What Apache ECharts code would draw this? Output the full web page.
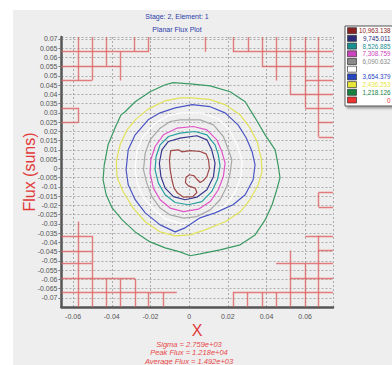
<!DOCTYPE html>
<html>
<head>
<meta charset="utf-8">
<script src="https://cdn.jsdelivr.net/npm/echarts@6/dist/echarts.min.js"></script>
<style>
html,body{margin:0;padding:0;background:#fff;}
#c{width:392px;height:365px;}
</style>
</head>
<body>
<div id="c"></div>
<script>
// ---------- data ----------
const xRange = [-0.066, 0.0744];
const yRange = [-0.075, 0.071];

const legendLabels = ['10,963.138','9,745.011','8,526.885','7,308.759','6,090.632','4,872.506','3,654.379','2,436.253','1,218.126','0'];
const legendColors = ['#8b2020','#2b2b7a','#1a8f8f','#cc44bb','#8a8a8a','#ffffff','#2845c0','#e6e63a','#178040','#ee3333'];
const lineColors   = ['#a04848','#38388f','#26a0a0','#e055c8','#a8a8a8','#ffffff','#4a55c4','#e2e25a','#3a9a62'];

const contourDarkRed = [[-0.0095,0.0096],[-0.0055,0.0100],[-0.0038,0.0089],[0.0005,0.0096],[0.0057,0.0091],[0.0088,0.0078],[0.0100,0.0046],[0.0105,0.0001],[0.0092,-0.0044],[0.0074,-0.0066],[0.0057,-0.0077],[0.0043,-0.0062],[0.0026,-0.0041],[0.0002,-0.0035],[-0.0016,-0.0048],[-0.0019,-0.0077],[-0.0004,-0.0095],[0.0031,-0.0107],[0.0040,-0.0131],[0.0019,-0.0153],[-0.0029,-0.0156],[-0.0060,-0.0134],[-0.0078,-0.0107],[-0.0089,-0.0062],[-0.0098,-0.0008],[-0.0102,0.0046]];
const contourNavy = [[-0.0047,0.0163],[0.0040,0.0176],[0.0092,0.0154],[0.0117,0.0100],[0.0134,0.0028],[0.0126,-0.0044],[0.0092,-0.0116],[0.0040,-0.0156],[-0.0021,-0.0170],[-0.0081,-0.0153],[-0.0124,-0.0107],[-0.0146,-0.0044],[-0.0154,0.0028],[-0.0141,0.0100],[-0.0107,0.0145]];
const contourTeal = [[-0.0047,0.0190],[0.0031,0.0199],[0.0092,0.0181],[0.0134,0.0127],[0.0151,0.0073],[0.0160,0.0010],[0.0146,-0.0062],[0.0117,-0.0125],[0.0066,-0.0180],[-0.0004,-0.0197],[-0.0072,-0.0185],[-0.0124,-0.0143],[-0.0159,-0.0080],[-0.0176,-0.0008],[-0.0171,0.0064],[-0.0150,0.0127],[-0.0107,0.0172]];
const contourMagenta = [[-0.0064,0.0217],[0.0022,0.0226],[0.0092,0.0208],[0.0143,0.0154],[0.0169,0.0091],[0.0186,0.0028],[0.0177,-0.0044],[0.0151,-0.0116],[0.0109,-0.0180],[0.0048,-0.0221],[-0.0029,-0.0234],[-0.0098,-0.0215],[-0.0150,-0.0170],[-0.0185,-0.0107],[-0.0202,-0.0026],[-0.0198,0.0046],[-0.0176,0.0118],[-0.0133,0.0181]];
const contourGray = [[-0.0047,0.0262],[0.0057,0.0262],[0.0126,0.0235],[0.0177,0.0172],[0.0203,0.0100],[0.0221,0.0046],[0.0212,-0.0026],[0.0195,-0.0098],[0.0160,-0.0170],[0.0109,-0.0225],[0.0040,-0.0261],[-0.0029,-0.0269],[-0.0098,-0.0252],[-0.0150,-0.0215],[-0.0193,-0.0153],[-0.0219,-0.0080],[-0.0236,-0.0008],[-0.0227,0.0082],[-0.0202,0.0154],[-0.0150,0.0217],[-0.0098,0.0253]];
const contourWhite = [[-0.0040,0.0300],[0.0070,0.0298],[0.0150,0.0268],[0.0210,0.0205],[0.0250,0.0120],[0.0275,0.0040],[0.0268,-0.0045],[0.0240,-0.0125],[0.0190,-0.0200],[0.0120,-0.0245],[0.0040,-0.0285],[-0.0040,-0.0300],[-0.0120,-0.0275],[-0.0180,-0.0225],[-0.0235,-0.0160],[-0.0268,-0.0085],[-0.0280,-0.0005],[-0.0270,0.0090],[-0.0240,0.0170],[-0.0180,0.0240],[-0.0110,0.0285]];
const contourBlue = [[0.0016,0.0344],[0.0109,0.0333],[0.0186,0.0300],[0.0253,0.0235],[0.0295,0.0165],[0.0326,0.0089],[0.0341,0.0019],[0.0331,-0.0062],[0.0290,-0.0143],[0.0227,-0.0197],[0.0134,-0.0241],[0.0057,-0.0268],[-0.0021,-0.0322],[-0.0072,-0.0344],[-0.0150,-0.0306],[-0.0227,-0.0241],[-0.0279,-0.0170],[-0.0315,-0.0089],[-0.0326,-0.0008],[-0.0315,0.0100],[-0.0279,0.0181],[-0.0212,0.0262],[-0.0150,0.0300],[-0.0072,0.0327]];
const contourYellow = [[0.0016,0.0381],[0.0109,0.0371],[0.0186,0.0344],[0.0264,0.0289],[0.0315,0.0219],[0.0352,0.0143],[0.0372,0.0057],[0.0377,-0.0019],[0.0357,-0.0089],[0.0315,-0.0170],[0.0264,-0.0235],[0.0186,-0.0289],[0.0083,-0.0333],[0.0005,-0.0360],[-0.0072,-0.0365],[-0.0150,-0.0344],[-0.0227,-0.0289],[-0.0290,-0.0214],[-0.0341,-0.0127],[-0.0372,-0.0051],[-0.0377,0.0035],[-0.0357,0.0127],[-0.0321,0.0208],[-0.0279,0.0262],[-0.0212,0.0320],[-0.0124,0.0365],[-0.0047,0.0381]];
const contourGreen = [[-0.0083,0.0463],[0.0005,0.0457],[0.0109,0.0446],[0.0212,0.0414],[0.0290,0.0360],[0.0341,0.0273],[0.0393,0.0181],[0.0445,0.0100],[0.0460,0.0019],[0.0470,-0.0051],[0.0450,-0.0127],[0.0429,-0.0197],[0.0393,-0.0279],[0.0341,-0.0360],[0.0264,-0.0414],[0.0160,-0.0441],[0.0057,-0.0463],[0.0005,-0.0473],[-0.0047,-0.0452],[-0.0124,-0.0430],[-0.0202,-0.0398],[-0.0279,-0.0344],[-0.0346,-0.0279],[-0.0398,-0.0214],[-0.0429,-0.0143],[-0.0445,-0.0062],[-0.0439,0.0019],[-0.0419,0.0127],[-0.0383,0.0219],[-0.0352,0.0289],[-0.0331,0.0306],[-0.0279,0.0360],[-0.0202,0.0414],[-0.0124,0.0452]];

// red outline segments [x1, y1, x2, y2]
const redSegments = [
  // top-left
  [-0.066,0.0631,-0.0207,0.0631],[-0.066,0.0554,-0.0353,0.0554],[-0.066,0.0475,-0.0503,0.0475],
  [-0.0573,0.071,-0.0573,0.0475],[-0.0503,0.071,-0.0503,0.0475],[-0.0429,0.071,-0.0429,0.0554],
  [-0.0357,0.0631,-0.0357,0.0475],[-0.0285,0.071,-0.0285,0.0631],[-0.0211,0.071,-0.0211,0.0631],
  [-0.066,0.0327,-0.0574,0.0327],[-0.066,0.0248,-0.0574,0.0248],[-0.0574,0.0327,-0.0574,0.0248],
  // top-right
  [0.0083,0.071,0.0083,0.0630],[0.0226,0.0631,0.0744,0.0631],[0.0226,0.071,0.0226,0.0631],
  [0.0307,0.071,0.0307,0.0631],[0.0376,0.0554,0.0744,0.0554],[0.0376,0.071,0.0376,0.0554],
  [0.0450,0.071,0.0450,0.0475],[0.0522,0.071,0.0522,0.0400],[0.0600,0.0475,0.0744,0.0475],
  [0.0522,0.0400,0.0744,0.0400],[0.0600,0.071,0.0600,0.0327],[0.0600,0.0327,0.0744,0.0327],
  [0.0669,0.071,0.0669,0.0170],[0.0669,0.0248,0.0744,0.0248],[0.0669,0.0170,0.0744,0.0170],
  // bottom-left
  [-0.0573,-0.0288,-0.0573,-0.075],[-0.066,-0.0365,-0.0503,-0.0365],[-0.0503,-0.0365,-0.0503,-0.075],
  [-0.066,-0.0446,-0.0503,-0.0446],[-0.066,-0.0516,-0.0503,-0.0516],[-0.066,-0.0597,-0.0279,-0.0597],
  [-0.0429,-0.0597,-0.0429,-0.075],[-0.0357,-0.0597,-0.0357,-0.075],[-0.0279,-0.0597,-0.0279,-0.075],
  [-0.066,-0.0671,-0.0064,-0.0671],[-0.0211,-0.0671,-0.0211,-0.075],[-0.0136,-0.0671,-0.0136,-0.075],
  // bottom-right
  [0.0226,-0.0671,0.0744,-0.0671],[0.0226,-0.0671,0.0226,-0.075],[0.0302,-0.0671,0.0302,-0.075],
  [0.0376,-0.0671,0.0376,-0.075],[0.0450,-0.0671,0.0450,-0.075],[0.0522,-0.0444,0.0522,-0.075],
  [0.0450,-0.0516,0.0744,-0.0516],[0.0522,-0.0597,0.0744,-0.0597],[0.0600,-0.0516,0.0600,-0.075],
  [0.0669,-0.0365,0.0669,-0.075],[0.0600,-0.0365,0.0744,-0.0365],[0.0669,-0.0444,0.0744,-0.0444],
  [0.0669,-0.0132,0.0744,-0.0132],[0.0669,-0.0208,0.0744,-0.0208],[0.0669,-0.0132,0.0669,-0.0208]
];

const titleLines = ['Stage: 2, Element: 1', 'Planar Flux Plot'];
const statLines = ['Sigma = 2.759e+03', 'Peak Flux = 1.218e+04', 'Average Flux = 1.492e+03'];
const xName = 'X';
const yName = 'Flux (suns)';

// ---------- chart ----------
const contours = [contourDarkRed, contourNavy, contourTeal, contourMagenta, contourGray, contourWhite, contourBlue, contourYellow, contourGreen];
const FONT = '"Liberation Sans", Arial, sans-serif';

const series = contours.map((pts, i) => ({
  type: 'line',
  name: legendLabels[i],
  data: pts.concat([pts[0]]),
  showSymbol: false,
  silent: true,
  animation: false,
  z: 5,
  lineStyle: { color: lineColors[i], width: 1.2 }
}));
series.push({
  type: 'lines',
  coordinateSystem: 'cartesian2d',
  silent: true,
  animation: false,
  z: 4,
  lineStyle: { color: '#e06060', width: 1.4, opacity: 0.8 },
  data: redSegments.map(s => ({ coords: [[s[0], s[1]], [s[2], s[3]]] }))
});

const graphics = [
  { type: 'rect', z: -100, silent: true, shape: { x: 13, y: 10, width: 379, height: 355 }, style: { fill: '#eeeeee' } },
  { type: 'text', x: 177, y: 16, style: { text: titleLines[0], font: '7px ' + FONT, fill: '#2a3aa8', textAlign: 'center', textVerticalAlign: 'middle' } },
  { type: 'text', x: 177, y: 29, style: { text: titleLines[1], font: '7px ' + FONT, fill: '#2a3aa8', textAlign: 'center', textVerticalAlign: 'middle' } },
  { type: 'text', x: 29, y: 172, rotation: Math.PI / 2, style: { text: yName, font: '16px ' + FONT, fill: '#e23a3a', textAlign: 'center', textVerticalAlign: 'middle' } },
  { type: 'text', x: 197, y: 330, style: { text: xName, font: '16px ' + FONT, fill: '#e23a3a', textAlign: 'center', textVerticalAlign: 'middle' } },
  { type: 'rect', silent: true, shape: { x: 345, y: 26, width: 60, height: 80 }, style: { fill: '#ffffff', stroke: '#555', lineWidth: 1, shadowBlur: 2, shadowOffsetX: 2, shadowOffsetY: 2, shadowColor: 'rgba(0,0,0,0.35)' } }
];
statLines.forEach((t, i) => {
  graphics.push({ type: 'text', x: 189, y: 344 + i * 8.6, style: { text: t, font: 'italic 7.5px ' + FONT, fill: '#e84848', textAlign: 'center', textVerticalAlign: 'middle' } });
});
legendLabels.forEach((t, i) => {
  const y = 30.7 + i * 7.7;
  graphics.push({ type: 'rect', shape: { x: 347.5, y: y - 3, width: 9, height: 6 }, style: { fill: legendColors[i], stroke: '#333', lineWidth: 0.7 } });
  graphics.push({ type: 'text', x: 390.5, y: y, style: { text: t, font: '6.3px ' + FONT, fill: legendColors[i], textAlign: 'right', textVerticalAlign: 'middle' } });
});

const axisLabelStyle = { color: '#555', fontSize: 7, fontFamily: FONT };
const option = {
  backgroundColor: '#ffffff',
  animation: false,
  grid: { left: 61.5, right: 59, top: 37, bottom: 58, containLabel: false },
  xAxis: {
    type: 'value', min: xRange[0], max: xRange[1], splitNumber: 7,
    axisLine: { show: true, onZero: false, lineStyle: { color: '#555', width: 2.5 } },
    axisTick: { show: false },
    axisLabel: Object.assign({ margin: 6, showMinLabel: false, showMaxLabel: false }, axisLabelStyle),
    splitLine: { show: true, lineStyle: { color: '#9a9a9a', type: [2, 2], width: 0.8 } }
  },
  yAxis: {
    type: 'value', min: yRange[0], max: yRange[1], interval: 0.005,
    axisLine: { show: true, onZero: false, lineStyle: { color: '#555', width: 2.5 } },
    axisTick: { show: true, length: 3, lineStyle: { color: '#777' } },
    axisLabel: Object.assign({ margin: 4, showMinLabel: false, showMaxLabel: false }, axisLabelStyle),
    splitLine: { show: true, lineStyle: { color: '#9a9a9a', type: [2, 2], width: 0.8 } }
  },
  series: series,
  graphic: { elements: graphics }
};

const chart = echarts.init(document.getElementById('c'), null, { renderer: 'svg' });
chart.setOption(option);
</script>
</body>
</html>
